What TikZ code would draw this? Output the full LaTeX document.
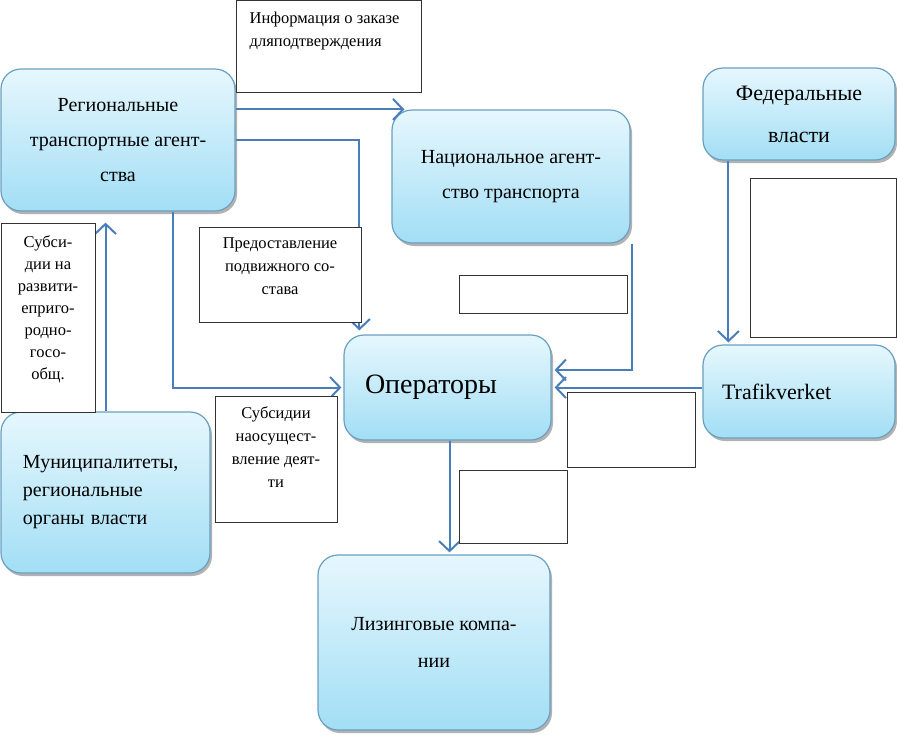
\documentclass[tikz,border=0pt]{standalone}
\usepackage{fontspec}
\setmainfont{Liberation Serif}
\newfontfamily\lser{Liberation Serif}
\usetikzlibrary{arrows.meta,shadows,calc}
\definecolor{arrowblue}{HTML}{4A7EBB}
\definecolor{boxtop}{HTML}{E6F7FD}
\definecolor{boxbot}{HTML}{A2DEF5}
\definecolor{boxline}{HTML}{6A9FC0}
\begin{document}
\begin{tikzpicture}[x=1pt,y=-1pt,
 bluebox/.style={draw=boxline, line width=1.2pt, rounded corners=20pt,
   top color=boxtop, bottom color=boxbot,
   drop shadow={shadow xshift=2pt, shadow yshift=-3pt, fill=black, opacity=0.3},
   inner sep=0pt, align=center},
 capbox/.style={draw=black!80, line width=1pt, fill=white, inner sep=0pt},
 captext/.style={font=\lser\fontsize{16.5}{23}\selectfont, align=center, anchor=north, inner sep=0pt},
 arr/.style={draw=arrowblue, line width=2pt, -{Straight Barb[length=10pt,width=21pt]}},
]
\useasboundingbox (0,0) rectangle (897,734);

% blue boxes
\node[bluebox, minimum width=234pt, minimum height=142pt,
  font=\lser\fontsize{20}{35}\selectfont] (reg) at (118,140) {Региональные\\транспортные агент-\\ства};
\node[bluebox, minimum width=238pt, minimum height=133pt,
  font=\lser\fontsize{20}{35}\selectfont] (nat) at (511,176.5) {Национальное агент-\\ство транспорта};
\node[bluebox, minimum width=192pt, minimum height=92pt,
  font=\lser\fontsize{22}{42}\selectfont] (fed) at (799,114) {Федеральные\\власти};
\node[bluebox, minimum width=207pt, minimum height=105pt, text width=165pt, align=left,
  font=\lser\fontsize{28}{34}\selectfont] (ops) at (447.5,387.5) {Операторы};
\node[bluebox, minimum width=192pt, minimum height=93pt, text width=154pt, align=left,
  font=\lser\fontsize{22}{30}\selectfont] (traf) at (799,391.5) {Trafikverket};
\node[bluebox, minimum width=209pt, minimum height=161pt, text width=165pt, align=left,
  font=\lser\fontsize{20}{28}\selectfont] (mun) at (105.5,492.5) {Муниципалитеты,\\региональные\\органы власти};
\node[bluebox, minimum width=232pt, minimum height=175pt,
  font=\lser\fontsize{20}{37}\selectfont] (lease) at (434,642.5) {Лизинговые компа-\\нии};

% connectors
\draw[arr] (reg.east |- nat.north) -- ([xshift=13pt]nat.north west);
\draw[arr, shorten >=4pt] (reg.east) -| ([xshift=16pt]ops.north west);
\draw[arr, shorten >=2pt] ([xshift=55pt]reg.south) |- (ops.west);
\draw[arr, shorten >=11pt] (mun.north) -- (mun.north |- reg.south);
\draw[arr, shorten >=3pt] ([xshift=1pt]nat.south east) |- ([yshift=17.5pt]ops.east);
\draw[arr, shorten >=3pt] (traf.west |- ops.east) -- (ops.east);
\draw[arr, shorten >=2pt] ([xshift=26pt]fed.south west) -- ([xshift=26pt]traf.north west);
\draw[arr, shorten >=2pt] ([xshift=2pt]ops.south) -- ([xshift=2pt]ops.south |- lease.north);

% caption boxes
\node[capbox, minimum width=185pt, minimum height=92pt] (info) at (328.5,46.5) {};
\node[font=\lser\fontsize{16.5}{23}\selectfont, align=left, anchor=north west, inner sep=0pt]
  (infot) at ($(info.north west)+(14,12)$) {Информация о заказе\\дляподтверждения};

\node[capbox, minimum width=94pt, minimum height=189pt] (subs1) at (48,317.5) {};
\node[captext, font=\lser\fontsize{16.5}{22}\selectfont] (subs1t) at ($(subs1.north)+(0,13)$)
  {Субси-\\дии на\\развити-\\еприго-\\родно-\\госо-\\общ.};

\node[capbox, minimum width=162pt, minimum height=95pt] (pred) at (280,274.5) {};
\node[captext] (predt) at ($(pred.north)+(0,11)$) {Предоставление\\подвижного со-\\става};

\node[capbox, minimum width=122pt, minimum height=126pt] (subs2) at (276,459) {};
\node[captext] (subs2t) at ($(subs2.north)+(0,11)$) {Субсидии\\наосущест-\\вление деят-\\ти};

\node[capbox, minimum width=168pt, minimum height=38pt] (e1) at (543,294) {};
\node[capbox, minimum width=146pt, minimum height=159pt] (e2) at (823,257.5) {};
\node[capbox, minimum width=128pt, minimum height=75pt] (e3) at (631,429.5) {};
\node[capbox, minimum width=108pt, minimum height=73pt] (e4) at (513,506.5) {};
\end{tikzpicture}
\end{document}
